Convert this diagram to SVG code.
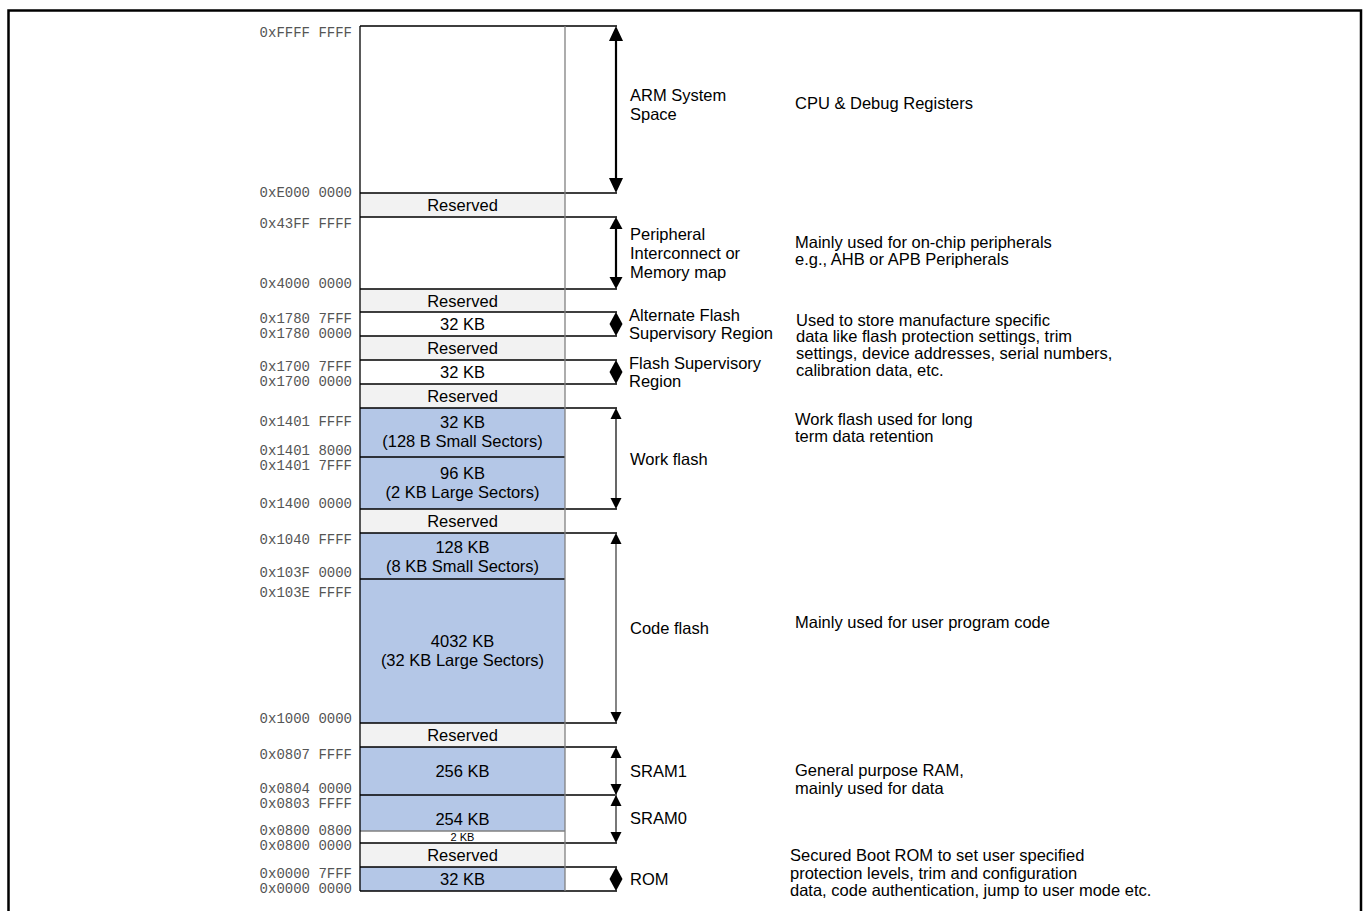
<svg xmlns="http://www.w3.org/2000/svg" xmlns:xlink="http://www.w3.org/1999/xlink" width="1367" height="911" viewBox="0 0 1367 911">
<style>
.addr{font-family:"Liberation Mono","Courier New",monospace;font-size:14px;fill:#555;text-anchor:end}
.lbl{font-family:"Liberation Sans",Arial,sans-serif;font-size:16.5px;fill:#000}
.mid{text-anchor:middle}
.sm{font-size:11px}
.res{fill:#f2f2f2}
.blue{fill:#b4c7e7}
.wh{fill:#fff}
.hl{stroke:#000;stroke-width:1.3;fill:none}
.gl{stroke:#808080;stroke-width:1.3;fill:none}
.head{fill:#000}
</style>
<defs>
<path id="upL" d="M0,0 L-7,15 L7,15 Z"/>
<path id="dnL" d="M0,0 L-7,-15 L7,-15 Z"/>
<path id="upM" d="M0,0 L-6.5,12 L6.5,12 Z"/>
<path id="dnM" d="M0,0 L-6.5,-12 L6.5,-12 Z"/>
<path id="upS" d="M0,0 L-5.5,11 L5.5,11 Z"/>
<path id="dnS" d="M0,0 L-5.5,-11 L5.5,-11 Z"/>
<path id="dia" d="M0,-12 L6.5,0 L0,12 L-6.5,0 Z"/>
</defs>
<rect x="8.5" y="10.5" width="1352.5" height="920" fill="#fff" stroke="#000" stroke-width="2.5"/>

<g id="memory-map">
<g id="arm"><rect x="360" y="26" width="205" height="167" class="wh"/></g>
<g id="res1"><rect x="360" y="193" width="205" height="24" class="res"/><text x="462.5" y="211" class="lbl mid">Reserved</text></g>
<g id="periph"><rect x="360" y="217" width="205" height="72" class="wh"/></g>
<g id="res2"><rect x="360" y="289" width="205" height="23" class="res"/><text x="462.5" y="306.5" class="lbl mid">Reserved</text></g>
<g id="altflash"><rect x="360" y="312" width="205" height="24" class="wh"/><text x="462.5" y="330" class="lbl mid">32 KB</text></g>
<g id="res3"><rect x="360" y="336" width="205" height="24" class="res"/><text x="462.5" y="354" class="lbl mid">Reserved</text></g>
<g id="flashsup"><rect x="360" y="360" width="205" height="24" class="wh"/><text x="462.5" y="378" class="lbl mid">32 KB</text></g>
<g id="res4"><rect x="360" y="384" width="205" height="24" class="res"/><text x="462.5" y="402" class="lbl mid">Reserved</text></g>
<g id="work1"><rect x="360" y="408" width="205" height="49" class="blue"/><text x="462.5" y="428" class="lbl mid">32 KB</text><text x="462.5" y="447" class="lbl mid">(128 B Small Sectors)</text></g>
<g id="work2"><rect x="360" y="457" width="205" height="52" class="blue"/><text x="462.5" y="479" class="lbl mid">96 KB</text><text x="462.5" y="498" class="lbl mid">(2 KB Large Sectors)</text></g>
<g id="res5"><rect x="360" y="509" width="205" height="24" class="res"/><text x="462.5" y="527" class="lbl mid">Reserved</text></g>
<g id="code1"><rect x="360" y="533" width="205" height="46" class="blue"/><text x="462.5" y="553" class="lbl mid">128 KB</text><text x="462.5" y="572" class="lbl mid">(8 KB Small Sectors)</text></g>
<g id="code2"><rect x="360" y="579" width="205" height="144" class="blue"/><text x="462.5" y="647" class="lbl mid">4032 KB</text><text x="462.5" y="666" class="lbl mid">(32 KB Large Sectors)</text></g>
<g id="res6"><rect x="360" y="723" width="205" height="24" class="res"/><text x="462.5" y="741" class="lbl mid">Reserved</text></g>
<g id="sram1"><rect x="360" y="747" width="205" height="48" class="blue"/><text x="462.5" y="777" class="lbl mid">256 KB</text></g>
<g id="sram0"><rect x="360" y="795" width="205" height="36" class="blue"/><text x="462.5" y="825" class="lbl mid">254 KB</text></g>
<g id="kb2"><rect x="360" y="831" width="205" height="12" class="wh"/><text x="462.5" y="841" class="lbl mid sm">2 KB</text></g>
<g id="res7"><rect x="360" y="843" width="205" height="24" class="res"/><text x="462.5" y="861" class="lbl mid">Reserved</text></g>
<g id="rom"><rect x="360" y="867" width="205" height="24" class="blue"/><text x="462.5" y="885" class="lbl mid">32 KB</text></g>
</g>

<g id="grid-lines">
<path class="hl" d="M360,26H617M360,193H617M360,217H617M360,289H617M360,312H617M360,336H617M360,360H617M360,384H617M360,408H617M360,457H565M360,509H617M360,533H617M360,579H565M360,723H617M360,747H617M360,795H617M360,843H617M360,867H617M360,891H617"/>
<path class="gl" d="M360,831H565"/>
<path class="hl" d="M360,26V891"/>
<path class="gl" d="M565,26V891"/>
</g>

<g id="addresses">
<text x="352" y="37" class="addr">0xFFFF FFFF</text>
<text x="352" y="197" class="addr">0xE000 0000</text>
<text x="352" y="228" class="addr">0x43FF FFFF</text>
<text x="352" y="288" class="addr">0x4000 0000</text>
<text x="352" y="323" class="addr">0x1780 7FFF</text>
<text x="352" y="337.5" class="addr">0x1780 0000</text>
<text x="352" y="371" class="addr">0x1700 7FFF</text>
<text x="352" y="385.5" class="addr">0x1700 0000</text>
<text x="352" y="425.5" class="addr">0x1401 FFFF</text>
<text x="352" y="455" class="addr">0x1401 8000</text>
<text x="352" y="470" class="addr">0x1401 7FFF</text>
<text x="352" y="508" class="addr">0x1400 0000</text>
<text x="352" y="544" class="addr">0x1040 FFFF</text>
<text x="352" y="577" class="addr">0x103F 0000</text>
<text x="352" y="597" class="addr">0x103E FFFF</text>
<text x="352" y="722.5" class="addr">0x1000 0000</text>
<text x="352" y="759" class="addr">0x0807 FFFF</text>
<text x="352" y="793" class="addr">0x0804 0000</text>
<text x="352" y="807.5" class="addr">0x0803 FFFF</text>
<text x="352" y="835" class="addr">0x0800 0800</text>
<text x="352" y="849.5" class="addr">0x0800 0000</text>
<text x="352" y="878" class="addr">0x0000 7FFF</text>
<text x="352" y="892.5" class="addr">0x0000 0000</text>
</g>

<g id="connectors">
<path d="M616,38V181" stroke="#000" stroke-width="2.2"/>
<use xlink:href="#upL" href="#upL" x="616" y="26" class="head"/>
<use xlink:href="#dnL" href="#dnL" x="616" y="193" class="head"/>
<path d="M616,228V278" stroke="#000" stroke-width="2.2"/>
<use xlink:href="#upM" href="#upM" x="616" y="217" class="head"/>
<use xlink:href="#dnM" href="#dnM" x="616" y="289" class="head"/>
<use xlink:href="#dia" href="#dia" x="616" y="324" class="head"/>
<use xlink:href="#dia" href="#dia" x="616" y="372" class="head"/>
<path d="M616,418V499" stroke="#000" stroke-width="1.2"/>
<use xlink:href="#upS" href="#upS" x="616" y="408" class="head"/>
<use xlink:href="#dnS" href="#dnS" x="616" y="509" class="head"/>
<path d="M616,543V713" stroke="#333" stroke-width="1.2"/>
<use xlink:href="#upS" href="#upS" x="616" y="533" class="head"/>
<use xlink:href="#dnS" href="#dnS" x="616" y="723" class="head"/>
<path d="M616,757V833" stroke="#777" stroke-width="2"/>
<use xlink:href="#upS" href="#upS" x="616" y="747" class="head"/>
<use xlink:href="#dnS" href="#dnS" x="616" y="795" class="head"/>
<use xlink:href="#upS" href="#upS" x="616" y="795" class="head"/>
<use xlink:href="#dnS" href="#dnS" x="616" y="843" class="head"/>
<use xlink:href="#dia" href="#dia" x="616" y="879" class="head"/>
</g>

<g id="region-labels">
<text class="lbl" x="630"><tspan x="630" y="101">ARM System</tspan><tspan x="630" y="120">Space</tspan></text>
<text class="lbl" x="630"><tspan x="630" y="240">Peripheral</tspan><tspan x="630" y="259">Interconnect or</tspan><tspan x="630" y="278">Memory map</tspan></text>
<text class="lbl" x="629"><tspan x="629" y="321">Alternate Flash</tspan><tspan x="629" y="339">Supervisory Region</tspan></text>
<text class="lbl" x="629"><tspan x="629" y="369">Flash Supervisory</tspan><tspan x="629" y="387">Region</tspan></text>
<text class="lbl" x="630" y="465">Work flash</text>
<text class="lbl" x="630" y="634">Code flash</text>
<text class="lbl" x="630" y="777">SRAM1</text>
<text class="lbl" x="630" y="824">SRAM0</text>
<text class="lbl" x="630" y="885">ROM</text>
</g>

<g id="descriptions">
<text class="lbl" x="795" y="109">CPU &amp; Debug Registers</text>
<text class="lbl"><tspan x="795" y="248">Mainly used for on-chip peripherals</tspan><tspan x="795" y="265">e.g., AHB or APB Peripherals</tspan></text>
<text class="lbl"><tspan x="796" y="326">Used to store manufacture specific</tspan><tspan x="796" y="342">data like flash protection settings, trim</tspan><tspan x="796" y="359">settings, device addresses, serial numbers,</tspan><tspan x="796" y="376">calibration data, etc.</tspan></text>
<text class="lbl"><tspan x="795" y="425">Work flash used for long</tspan><tspan x="795" y="442">term data retention</tspan></text>
<text class="lbl" x="795" y="628">Mainly used for user program code</text>
<text class="lbl"><tspan x="795" y="776">General purpose RAM,</tspan><tspan x="795" y="794">mainly used for data</tspan></text>
<text class="lbl"><tspan x="790" y="861">Secured Boot ROM to set user specified</tspan><tspan x="790" y="879">protection levels, trim and configuration</tspan><tspan x="790" y="896">data, code authentication, jump to user mode etc.</tspan></text>
</g>
</svg>
